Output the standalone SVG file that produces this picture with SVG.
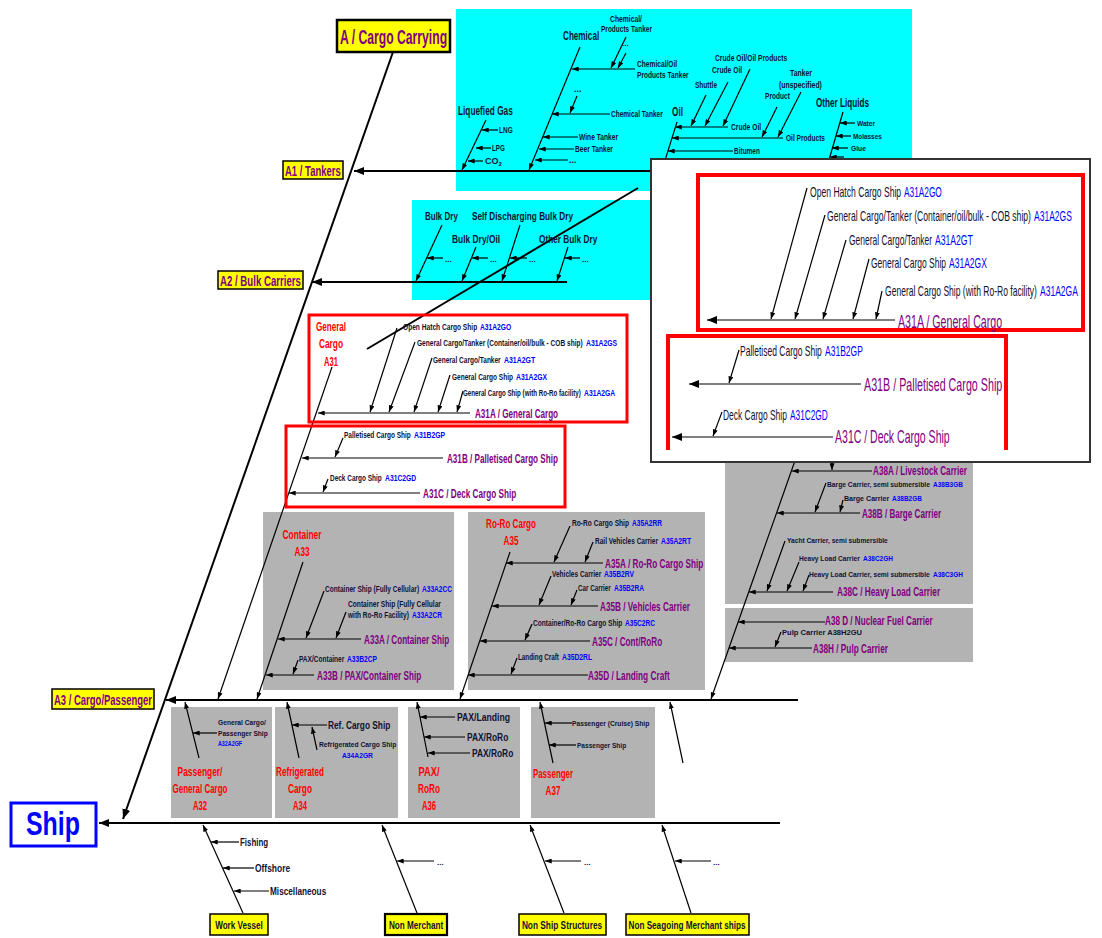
<svg xmlns="http://www.w3.org/2000/svg" width="1102" height="938" viewBox="0 0 1102 938">
<defs>
<style>
text{font-family:"Liberation Sans",Arial,sans-serif;font-weight:bold;fill:#111133}
.r{fill:#ff0000}.p{fill:#800080}.b{fill:#0000ff}.n{font-weight:normal}
.l{stroke:#000;stroke-width:1.2;fill:none}
.m{stroke:#000;stroke-width:2;fill:none}
.cy{fill:#00ffff}.gr{fill:#b3b3b3}
.yb{fill:#ffff00;stroke:#000;stroke-width:1.5}
.rb{fill:none;stroke:#ff0000;stroke-width:3}
</style>
<marker id="a" viewBox="0 0 8 6" refX="8" refY="3" markerWidth="7" markerHeight="5" markerUnits="userSpaceOnUse" orient="auto"><path d="M0,0 L8,3 L0,6 Z" fill="#000"/></marker>
<marker id="A" viewBox="0 0 10 8" refX="10" refY="4" markerWidth="10" markerHeight="8" markerUnits="userSpaceOnUse" orient="auto"><path d="M0,0 L10,4 L0,8 Z" fill="#000"/></marker>
</defs>
<rect width="1102" height="938" fill="#fff"/>
<g id="panels">
<rect class="cy" x="456" y="9" width="456" height="182"/>
<rect class="cy" x="412" y="200" width="250" height="100"/>
<rect class="gr" x="263" y="512" width="191" height="178"/>
<rect class="gr" x="468" y="512" width="237" height="178"/>
<rect class="gr" x="725" y="440" width="248" height="164"/>
<rect class="gr" x="725" y="608" width="248" height="54"/>
<rect class="gr" x="171" y="707" width="101" height="111"/>
<rect class="gr" x="275" y="707" width="123" height="111"/>
<rect class="gr" x="408" y="707" width="112" height="111"/>
<rect class="gr" x="531" y="707" width="124" height="111"/>
</g>
<g id="connectors">
<line class="m" x1="393" y1="52" x2="123" y2="819" marker-end="url(#A)"/>
<line class="m" x1="780" y1="823" x2="99" y2="823" marker-end="url(#A)"/>
<line class="m" x1="840" y1="171" x2="354" y2="171" marker-end="url(#A)"/>
<line class="m" x1="567" y1="282" x2="312" y2="282" marker-end="url(#A)"/>
<line class="m" x1="798" y1="700" x2="166" y2="700" marker-end="url(#A)"/>
<line class="l" x1="486" y1="120" x2="462" y2="170" marker-end="url(#a)"/>
<line class="l" x1="580" y1="47" x2="529" y2="170" marker-end="url(#a)"/>
<line class="l" x1="677" y1="122" x2="662" y2="170" marker-end="url(#a)"/>
<line class="l" x1="843" y1="112" x2="826" y2="170" marker-end="url(#a)"/>
<line class="l" x1="498" y1="130" x2="482" y2="130" marker-end="url(#a)"/>
<line class="l" x1="491" y1="148" x2="476" y2="148" marker-end="url(#a)"/>
<line class="l" x1="483" y1="161" x2="468" y2="161" marker-end="url(#a)"/>
<line class="l" x1="635" y1="69" x2="572" y2="69" marker-end="url(#a)"/>
<line class="l" x1="610" y1="114" x2="552" y2="114" marker-end="url(#a)"/>
<line class="l" x1="578" y1="137" x2="543" y2="137" marker-end="url(#a)"/>
<line class="l" x1="574" y1="149" x2="539" y2="149" marker-end="url(#a)"/>
<line class="l" x1="568" y1="160" x2="535" y2="160" marker-end="url(#a)"/>
<line class="l" x1="626" y1="37" x2="611" y2="68" marker-end="url(#a)"/>
<line class="l" x1="626" y1="53" x2="618" y2="68" marker-end="url(#a)"/>
<line class="l" x1="577" y1="96" x2="570" y2="113" marker-end="url(#a)"/>
<line class="l" x1="728" y1="127" x2="675" y2="127" marker-end="url(#a)"/>
<line class="l" x1="783" y1="138" x2="672" y2="138" marker-end="url(#a)"/>
<line class="l" x1="733" y1="151" x2="668" y2="151" marker-end="url(#a)"/>
<line class="l" x1="706" y1="95" x2="691" y2="126" marker-end="url(#a)"/>
<line class="l" x1="728" y1="82" x2="705" y2="126" marker-end="url(#a)"/>
<line class="l" x1="750" y1="69" x2="723" y2="126" marker-end="url(#a)"/>
<line class="l" x1="777" y1="107" x2="762" y2="137" marker-end="url(#a)"/>
<line class="l" x1="801" y1="92" x2="778" y2="137" marker-end="url(#a)"/>
<line class="l" x1="855" y1="123" x2="840" y2="123" marker-end="url(#a)"/>
<line class="l" x1="851" y1="136" x2="836" y2="136" marker-end="url(#a)"/>
<line class="l" x1="848" y1="148" x2="832" y2="148" marker-end="url(#a)"/>
<line class="l" x1="844" y1="157" x2="830" y2="157" marker-end="url(#a)"/>
<line class="l" x1="442" y1="225" x2="416" y2="281" marker-end="url(#a)"/>
<line class="l" x1="476" y1="247" x2="462" y2="281" marker-end="url(#a)"/>
<line class="l" x1="520" y1="225" x2="502" y2="281" marker-end="url(#a)"/>
<line class="l" x1="568" y1="247" x2="557" y2="281" marker-end="url(#a)"/>
<line class="l" x1="443" y1="258" x2="427" y2="258" marker-end="url(#a)"/>
<line class="l" x1="488" y1="258" x2="472" y2="258" marker-end="url(#a)"/>
<line class="l" x1="527" y1="258" x2="510" y2="258" marker-end="url(#a)"/>
<line class="l" x1="580" y1="258" x2="565" y2="258" marker-end="url(#a)"/>
<line class="m" x1="638" y1="188" x2="367" y2="349"/>
<line class="l" x1="332" y1="367" x2="218" y2="699" marker-end="url(#a)"/>
<line class="l" x1="470" y1="413" x2="318" y2="413" marker-end="url(#a)"/>
<line class="l" x1="397" y1="328" x2="370" y2="412" marker-end="url(#a)"/>
<line class="l" x1="415" y1="342" x2="389" y2="412" marker-end="url(#a)"/>
<line class="l" x1="432" y1="358" x2="414" y2="412" marker-end="url(#a)"/>
<line class="l" x1="450" y1="375" x2="438" y2="412" marker-end="url(#a)"/>
<line class="l" x1="463" y1="391" x2="457" y2="412" marker-end="url(#a)"/>
<line class="l" x1="443" y1="458" x2="302" y2="458" marker-end="url(#a)"/>
<line class="l" x1="343" y1="438" x2="335" y2="457" marker-end="url(#a)"/>
<line class="l" x1="420" y1="493" x2="289" y2="493" marker-end="url(#a)"/>
<line class="l" x1="328" y1="479" x2="323" y2="492" marker-end="url(#a)"/>
<line class="l" x1="303" y1="562" x2="257" y2="699" marker-end="url(#a)"/>
<line class="l" x1="361" y1="639" x2="278" y2="639" marker-end="url(#a)"/>
<line class="l" x1="324" y1="591" x2="306" y2="638" marker-end="url(#a)"/>
<line class="l" x1="346" y1="612" x2="336" y2="638" marker-end="url(#a)"/>
<line class="l" x1="314" y1="675" x2="266" y2="675" marker-end="url(#a)"/>
<line class="l" x1="298" y1="660" x2="293" y2="674" marker-end="url(#a)"/>
<line class="l" x1="510" y1="552" x2="460" y2="699" marker-end="url(#a)"/>
<line class="l" x1="603" y1="563" x2="506" y2="563" marker-end="url(#a)"/>
<line class="l" x1="570" y1="526" x2="554" y2="562" marker-end="url(#a)"/>
<line class="l" x1="593" y1="542" x2="585" y2="562" marker-end="url(#a)"/>
<line class="l" x1="598" y1="606" x2="492" y2="606" marker-end="url(#a)"/>
<line class="l" x1="551" y1="576" x2="539" y2="605" marker-end="url(#a)"/>
<line class="l" x1="577" y1="590" x2="571" y2="605" marker-end="url(#a)"/>
<line class="l" x1="590" y1="641" x2="480" y2="641" marker-end="url(#a)"/>
<line class="l" x1="532" y1="624" x2="525" y2="640" marker-end="url(#a)"/>
<line class="l" x1="588" y1="675" x2="468" y2="675" marker-end="url(#a)"/>
<line class="l" x1="517" y1="658" x2="511" y2="674" marker-end="url(#a)"/>
<line class="l" x1="797" y1="455" x2="711" y2="699" marker-end="url(#a)"/>
<line class="l" x1="872" y1="471" x2="792" y2="471" marker-end="url(#a)"/>
<line class="l" x1="832" y1="462" x2="832" y2="470" marker-end="url(#a)"/>
<line class="l" x1="860" y1="513" x2="777" y2="513" marker-end="url(#a)"/>
<line class="l" x1="826" y1="483" x2="815" y2="512" marker-end="url(#a)"/>
<line class="l" x1="843" y1="500" x2="840" y2="512" marker-end="url(#a)"/>
<line class="l" x1="833" y1="592" x2="749" y2="592" marker-end="url(#a)"/>
<line class="l" x1="785" y1="541" x2="767" y2="591" marker-end="url(#a)"/>
<line class="l" x1="799" y1="562" x2="787" y2="591" marker-end="url(#a)"/>
<line class="l" x1="809" y1="575" x2="803" y2="591" marker-end="url(#a)"/>
<line class="l" x1="825" y1="622" x2="738" y2="622" marker-end="url(#a)"/>
<line class="l" x1="812" y1="648" x2="729" y2="648" marker-end="url(#a)"/>
<line class="l" x1="781" y1="632" x2="775" y2="647" marker-end="url(#a)"/>
<line class="l" x1="199" y1="758" x2="185" y2="702" marker-end="url(#a)"/>
<line class="l" x1="217" y1="733" x2="193" y2="733" marker-end="url(#a)"/>
<line class="l" x1="299" y1="758" x2="287" y2="702" marker-end="url(#a)"/>
<line class="l" x1="327" y1="725" x2="292" y2="725" marker-end="url(#a)"/>
<line class="l" x1="317" y1="750" x2="312" y2="727" marker-end="url(#a)"/>
<line class="l" x1="428" y1="757" x2="417" y2="702" marker-end="url(#a)"/>
<line class="l" x1="455" y1="717" x2="420" y2="717" marker-end="url(#a)"/>
<line class="l" x1="465" y1="737" x2="424" y2="737" marker-end="url(#a)"/>
<line class="l" x1="470" y1="753" x2="428" y2="753" marker-end="url(#a)"/>
<line class="l" x1="553" y1="763" x2="540" y2="702" marker-end="url(#a)"/>
<line class="l" x1="572" y1="723" x2="545" y2="723" marker-end="url(#a)"/>
<line class="l" x1="576" y1="745" x2="549" y2="745" marker-end="url(#a)"/>
<line class="l" x1="683" y1="763" x2="670" y2="702" marker-end="url(#a)"/>
<line class="l" x1="243" y1="913" x2="203" y2="825" marker-end="url(#a)"/>
<line class="l" x1="239" y1="842" x2="211" y2="842" marker-end="url(#a)"/>
<line class="l" x1="254" y1="868" x2="223" y2="868" marker-end="url(#a)"/>
<line class="l" x1="269" y1="891" x2="234" y2="891" marker-end="url(#a)"/>
<line class="l" x1="417" y1="913" x2="382" y2="825" marker-end="url(#a)"/>
<line class="l" x1="434" y1="861" x2="397" y2="861" marker-end="url(#a)"/>
<line class="l" x1="564" y1="913" x2="530" y2="825" marker-end="url(#a)"/>
<line class="l" x1="581" y1="861" x2="545" y2="861" marker-end="url(#a)"/>
<line class="l" x1="691" y1="913" x2="662" y2="825" marker-end="url(#a)"/>
<line class="l" x1="711" y1="861" x2="675" y2="861" marker-end="url(#a)"/>
</g>
<g id="cargo-carrying">
<rect x="337" y="20" width="113" height="32" fill="#ffff00" stroke="#000" stroke-width="2.5"/>
<text class="p" transform="translate(340,44) scale(0.53,1)" font-size="20" textLength="202" lengthAdjust="spacingAndGlyphs">A / Cargo Carrying</text>
</g>
<g id="a1-tankers">
<rect class="yb" x="283" y="161" width="60" height="18"/>
<text class="p" transform="translate(285,176) scale(0.6,1)" font-size="14" textLength="93" lengthAdjust="spacingAndGlyphs">A1 / Tankers</text>
<text transform="translate(458,115) scale(0.63,1)" font-size="12" textLength="87" lengthAdjust="spacingAndGlyphs">Liquefied Gas</text>
<text transform="translate(499,133) scale(0.72,1)" font-size="9" textLength="19" lengthAdjust="spacingAndGlyphs">LNG</text>
<text transform="translate(492,151) scale(0.68,1)" font-size="9" textLength="19" lengthAdjust="spacingAndGlyphs">LPG</text>
<text x="485" y="164" font-size="9">CO<tspan font-size="6" dy="2">2</tspan></text>
<text transform="translate(563,40) scale(0.67,1)" font-size="12" textLength="54" lengthAdjust="spacingAndGlyphs">Chemical</text>
<text transform="translate(610,22) scale(0.71,1)" font-size="9" textLength="45" lengthAdjust="spacingAndGlyphs">Chemical/</text>
<text transform="translate(601,32) scale(0.67,1)" font-size="9" textLength="76" lengthAdjust="spacingAndGlyphs">Products Tanker</text>
<text x="622" y="46" font-size="8">...</text>
<text transform="translate(637,67) scale(0.67,1)" font-size="9" textLength="60" lengthAdjust="spacingAndGlyphs">Chemical/Oil</text>
<text transform="translate(637,78) scale(0.68,1)" font-size="9" textLength="76" lengthAdjust="spacingAndGlyphs">Products Tanker</text>
<text x="574" y="92" font-size="9">...</text>
<text transform="translate(611,117) scale(0.68,1)" font-size="9" textLength="76" lengthAdjust="spacingAndGlyphs">Chemical Tanker</text>
<text transform="translate(579,140) scale(0.71,1)" font-size="9" textLength="55" lengthAdjust="spacingAndGlyphs">Wine Tanker</text>
<text transform="translate(575,152) scale(0.69,1)" font-size="9" textLength="55" lengthAdjust="spacingAndGlyphs">Beer Tanker</text>
<text x="569" y="163" font-size="9">...</text>
<text transform="translate(672,116) scale(0.55,1)" font-size="12" textLength="20" lengthAdjust="spacingAndGlyphs">Oil</text>
<text transform="translate(715,61) scale(0.65,1)" font-size="9" textLength="111" lengthAdjust="spacingAndGlyphs">Crude Oil/Oil Products</text>
<text transform="translate(712,73) scale(0.67,1)" font-size="9" textLength="45" lengthAdjust="spacingAndGlyphs">Crude Oil</text>
<text transform="translate(695,88) scale(0.63,1)" font-size="9" textLength="35" lengthAdjust="spacingAndGlyphs">Shuttle</text>
<text transform="translate(790,76) scale(0.73,1)" font-size="9" textLength="30" lengthAdjust="spacingAndGlyphs">Tanker</text>
<text transform="translate(779,88) scale(0.66,1)" font-size="9" textLength="65" lengthAdjust="spacingAndGlyphs">(unspecified)</text>
<text transform="translate(765,99) scale(0.71,1)" font-size="9" textLength="35" lengthAdjust="spacingAndGlyphs">Product</text>
<text transform="translate(731,130) scale(0.67,1)" font-size="9" textLength="45" lengthAdjust="spacingAndGlyphs">Crude Oil</text>
<text transform="translate(786,141) scale(0.65,1)" font-size="9" textLength="60" lengthAdjust="spacingAndGlyphs">Oil Products</text>
<text transform="translate(734,154) scale(0.74,1)" font-size="9" textLength="35" lengthAdjust="spacingAndGlyphs">Bitumen</text>
<text transform="translate(816,107) scale(0.61,1)" font-size="12" textLength="87" lengthAdjust="spacingAndGlyphs">Other Liquids</text>
<text transform="translate(857,126) scale(0.82,1)" font-size="8" textLength="22" lengthAdjust="spacingAndGlyphs">Water</text>
<text transform="translate(853,139) scale(0.8,1)" font-size="8" textLength="36" lengthAdjust="spacingAndGlyphs">Molasses</text>
<text transform="translate(851,151) scale(0.83,1)" font-size="8" textLength="18" lengthAdjust="spacingAndGlyphs">Glue</text>
</g>
<g id="a2-bulk">
<rect class="yb" x="218" y="271" width="85" height="18"/>
<text class="p" transform="translate(220,286) scale(0.57,1)" font-size="14" textLength="142" lengthAdjust="spacingAndGlyphs">A2 / Bulk Carriers</text>
<text transform="translate(425,220) scale(0.67,1)" font-size="11" textLength="49" lengthAdjust="spacingAndGlyphs">Bulk Dry</text>
<text transform="translate(472,220) scale(0.66,1)" font-size="11" textLength="153" lengthAdjust="spacingAndGlyphs">Self Discharging Bulk Dry</text>
<text transform="translate(452,243) scale(0.65,1)" font-size="11" textLength="74" lengthAdjust="spacingAndGlyphs">Bulk Dry/Oil</text>
<text transform="translate(539,243) scale(0.67,1)" font-size="11" textLength="87" lengthAdjust="spacingAndGlyphs">Other Bulk Dry</text>
<text x="445" y="262" font-size="8">...</text>
<text x="490" y="262" font-size="8">...</text>
<text x="529" y="262" font-size="8">...</text>
<text x="582" y="262" font-size="8">...</text>
</g>
<g id="a3-cargo-passenger">
<rect class="yb" x="52" y="689" width="102" height="20"/>
<text class="p" transform="translate(54,705) scale(0.62,1)" font-size="14" textLength="158" lengthAdjust="spacingAndGlyphs">A3 / Cargo/Passenger</text>
</g>
<g id="a31-general-cargo">
<rect class="rb" x="309" y="315" width="318" height="107"/>
<rect class="rb" x="286" y="426" width="279" height="81"/>
<text class="r" transform="translate(331,331) scale(0.64,1)" font-size="12" text-anchor="middle" textLength="47" lengthAdjust="spacingAndGlyphs">General</text>
<text class="r" transform="translate(331,348) scale(0.71,1)" font-size="12" text-anchor="middle" textLength="34" lengthAdjust="spacingAndGlyphs">Cargo</text>
<text class="r" transform="translate(331,366) scale(0.61,1)" font-size="12" text-anchor="middle" textLength="23" lengthAdjust="spacingAndGlyphs">A31</text>
<text transform="translate(403,330) scale(0.7,1)" font-size="9" textLength="106" lengthAdjust="spacingAndGlyphs">Open Hatch Cargo Ship</text>
<text class="b" transform="translate(480,330) scale(0.76,1)" font-size="9" textLength="41" lengthAdjust="spacingAndGlyphs">A31A2GO</text>
<text transform="translate(417,346) scale(0.63,1)" font-size="9" textLength="263" lengthAdjust="spacingAndGlyphs">General Cargo/Tanker (Container/oil/bulk - COB ship)</text>
<text class="b" transform="translate(586,346) scale(0.76,1)" font-size="9" textLength="41" lengthAdjust="spacingAndGlyphs">A31A2GS</text>
<text transform="translate(433,363) scale(0.67,1)" font-size="9" textLength="101" lengthAdjust="spacingAndGlyphs">General Cargo/Tanker</text>
<text class="b" transform="translate(504,363) scale(0.76,1)" font-size="9" textLength="41" lengthAdjust="spacingAndGlyphs">A31A2GT</text>
<text transform="translate(452,380) scale(0.67,1)" font-size="9" textLength="91" lengthAdjust="spacingAndGlyphs">General Cargo Ship</text>
<text class="b" transform="translate(516,380) scale(0.76,1)" font-size="9" textLength="41" lengthAdjust="spacingAndGlyphs">A31A2GX</text>
<text transform="translate(463,396) scale(0.58,1)" font-size="9" textLength="203" lengthAdjust="spacingAndGlyphs">General Cargo Ship (with Ro-Ro facility)</text>
<text class="b" transform="translate(584,396) scale(0.76,1)" font-size="9" textLength="41" lengthAdjust="spacingAndGlyphs">A31A2GA</text>
<text class="p" transform="translate(475,418) scale(0.62,1)" font-size="12" textLength="134" lengthAdjust="spacingAndGlyphs">A31A / General Cargo</text>
<text transform="translate(344,438) scale(0.63,1)" font-size="9" textLength="106" lengthAdjust="spacingAndGlyphs">Palletised Cargo Ship</text>
<text class="b" transform="translate(414,438) scale(0.76,1)" font-size="9" textLength="41" lengthAdjust="spacingAndGlyphs">A31B2GP</text>
<text class="p" transform="translate(447,463) scale(0.59,1)" font-size="12" textLength="188" lengthAdjust="spacingAndGlyphs">A31B / Palletised Cargo Ship</text>
<text transform="translate(330,481) scale(0.68,1)" font-size="9" textLength="76" lengthAdjust="spacingAndGlyphs">Deck Cargo Ship</text>
<text class="b" transform="translate(385,481) scale(0.76,1)" font-size="9" textLength="41" lengthAdjust="spacingAndGlyphs">A31C2GD</text>
<text class="p" transform="translate(423,498) scale(0.63,1)" font-size="12" textLength="148" lengthAdjust="spacingAndGlyphs">A31C / Deck Cargo Ship</text>
</g>
<g id="a33-container">
<text class="r" transform="translate(302,539) scale(0.59,1)" font-size="13" text-anchor="middle" textLength="66" lengthAdjust="spacingAndGlyphs">Container</text>
<text class="r" transform="translate(302,556) scale(0.6,1)" font-size="13" text-anchor="middle" textLength="25" lengthAdjust="spacingAndGlyphs">A33</text>
<text transform="translate(325,592) scale(0.64,1)" font-size="8.5" textLength="147" lengthAdjust="spacingAndGlyphs">Container Ship (Fully Cellular)</text>
<text class="b" transform="translate(422,592) scale(0.77,1)" font-size="8.5" textLength="39" lengthAdjust="spacingAndGlyphs">A33A2CC</text>
<text transform="translate(348,607) scale(0.65,1)" font-size="8.5" textLength="143" lengthAdjust="spacingAndGlyphs">Container Ship (Fully Cellular</text>
<text transform="translate(348,618) scale(0.64,1)" font-size="8.5" textLength="95" lengthAdjust="spacingAndGlyphs">with Ro-Ro Facility)</text>
<text class="b" transform="translate(412,618) scale(0.77,1)" font-size="8.5" textLength="39" lengthAdjust="spacingAndGlyphs">A33A2CR</text>
<text class="p" transform="translate(364,644) scale(0.6,1)" font-size="12" textLength="142" lengthAdjust="spacingAndGlyphs">A33A / Container Ship</text>
<text transform="translate(299,662) scale(0.73,1)" font-size="8.5" textLength="62" lengthAdjust="spacingAndGlyphs">PAX/Container</text>
<text class="b" transform="translate(347,662) scale(0.77,1)" font-size="8.5" textLength="39" lengthAdjust="spacingAndGlyphs">A33B2CP</text>
<text class="p" transform="translate(317,680) scale(0.62,1)" font-size="12" textLength="168" lengthAdjust="spacingAndGlyphs">A33B / PAX/Container Ship</text>
</g>
<g id="a35-roro">
<text class="r" transform="translate(511,528) scale(0.63,1)" font-size="13" text-anchor="middle" textLength="79" lengthAdjust="spacingAndGlyphs">Ro-Ro Cargo</text>
<text class="r" transform="translate(511,545) scale(0.6,1)" font-size="13" text-anchor="middle" textLength="25" lengthAdjust="spacingAndGlyphs">A35</text>
<text transform="translate(572,526) scale(0.75,1)" font-size="8.5" textLength="76" lengthAdjust="spacingAndGlyphs">Ro-Ro Cargo Ship</text>
<text class="b" transform="translate(632,526) scale(0.77,1)" font-size="8.5" textLength="39" lengthAdjust="spacingAndGlyphs">A35A2RR</text>
<text transform="translate(595,544) scale(0.63,1)" font-size="8.5" textLength="100" lengthAdjust="spacingAndGlyphs">Rail Vehicles Carrier</text>
<text class="b" transform="translate(661,544) scale(0.77,1)" font-size="8.5" textLength="39" lengthAdjust="spacingAndGlyphs">A35A2RT</text>
<text class="p" transform="translate(605,568) scale(0.63,1)" font-size="12" textLength="156" lengthAdjust="spacingAndGlyphs">A35A / Ro-Ro Cargo Ship</text>
<text transform="translate(552,577) scale(0.64,1)" font-size="8.5" textLength="77" lengthAdjust="spacingAndGlyphs">Vehicles Carrier</text>
<text class="b" transform="translate(604,577) scale(0.77,1)" font-size="8.5" textLength="39" lengthAdjust="spacingAndGlyphs">A35B2RV</text>
<text transform="translate(578,591) scale(0.63,1)" font-size="8.5" textLength="52" lengthAdjust="spacingAndGlyphs">Car Carrier</text>
<text class="b" transform="translate(614,591) scale(0.77,1)" font-size="8.5" textLength="39" lengthAdjust="spacingAndGlyphs">A35B2RA</text>
<text class="p" transform="translate(600,611) scale(0.58,1)" font-size="12" textLength="155" lengthAdjust="spacingAndGlyphs">A35B / Vehicles Carrier</text>
<text transform="translate(533,626) scale(0.72,1)" font-size="8.5" textLength="124" lengthAdjust="spacingAndGlyphs">Container/Ro-Ro Cargo Ship</text>
<text class="b" transform="translate(625,626) scale(0.77,1)" font-size="8.5" textLength="39" lengthAdjust="spacingAndGlyphs">A35C2RC</text>
<text class="p" transform="translate(592,646) scale(0.65,1)" font-size="12" textLength="108" lengthAdjust="spacingAndGlyphs">A35C / Cont/RoRo</text>
<text transform="translate(518,660) scale(0.66,1)" font-size="8.5" textLength="62" lengthAdjust="spacingAndGlyphs">Landing Craft</text>
<text class="b" transform="translate(562,660) scale(0.77,1)" font-size="8.5" textLength="39" lengthAdjust="spacingAndGlyphs">A35D2RL</text>
<text class="p" transform="translate(588,680) scale(0.61,1)" font-size="12" textLength="134" lengthAdjust="spacingAndGlyphs">A35D / Landing Craft</text>
</g>
<g id="a38-other">
<text class="p" transform="translate(873,475) scale(0.58,1)" font-size="12" textLength="162" lengthAdjust="spacingAndGlyphs">A38A / Livestock Carrier</text>
<text transform="translate(827,487) scale(0.74,1)" font-size="8" textLength="139" lengthAdjust="spacingAndGlyphs">Barge Carrier, semi submersible</text>
<text class="b" transform="translate(933,487) scale(0.83,1)" font-size="8" textLength="36" lengthAdjust="spacingAndGlyphs">A38B3GB</text>
<text transform="translate(844,501) scale(0.78,1)" font-size="8" textLength="58" lengthAdjust="spacingAndGlyphs">Barge Carrier</text>
<text class="b" transform="translate(892,501) scale(0.83,1)" font-size="8" textLength="36" lengthAdjust="spacingAndGlyphs">A38B2GB</text>
<text class="p" transform="translate(862,518) scale(0.59,1)" font-size="12" textLength="134" lengthAdjust="spacingAndGlyphs">A38B / Barge Carrier</text>
<text transform="translate(787,543) scale(0.73,1)" font-size="8" textLength="138" lengthAdjust="spacingAndGlyphs">Yacht Carrier, semi submersible</text>
<text transform="translate(799,561) scale(0.75,1)" font-size="8" textLength="81" lengthAdjust="spacingAndGlyphs">Heavy Load Carrier</text>
<text class="b" transform="translate(863,561) scale(0.83,1)" font-size="8" textLength="36" lengthAdjust="spacingAndGlyphs">A38C2GH</text>
<text transform="translate(809,577) scale(0.75,1)" font-size="8" textLength="161" lengthAdjust="spacingAndGlyphs">Heavy Load Carrier, semi submersible</text>
<text class="b" transform="translate(933,577) scale(0.83,1)" font-size="8" textLength="36" lengthAdjust="spacingAndGlyphs">A38C3GH</text>
<text class="p" transform="translate(837,596) scale(0.61,1)" font-size="12" textLength="169" lengthAdjust="spacingAndGlyphs">A38C / Heavy Load Carrier</text>
<text class="p" transform="translate(825,625) scale(0.57,1)" font-size="12" textLength="189" lengthAdjust="spacingAndGlyphs">A38 D / Nuclear Fuel Carrier</text>
<text transform="translate(782,635) scale(0.89,1)" font-size="8" textLength="90" lengthAdjust="spacingAndGlyphs">Pulp Carrier A38H2GU</text>
<text class="p" transform="translate(813,653) scale(0.59,1)" font-size="12" textLength="127" lengthAdjust="spacingAndGlyphs">A38H / Pulp Carrier</text>
</g>
<g id="a32">
<text transform="translate(218,725) scale(0.76,1)" font-size="8" textLength="63" lengthAdjust="spacingAndGlyphs">General Cargo/</text>
<text transform="translate(218,736) scale(0.79,1)" font-size="8" textLength="63" lengthAdjust="spacingAndGlyphs">Passenger Ship</text>
<text class="b" transform="translate(218,746) scale(0.67,1)" font-size="8" textLength="36" lengthAdjust="spacingAndGlyphs">A32A2GF</text>
<text class="r" transform="translate(200,776) scale(0.67,1)" font-size="12" text-anchor="middle" textLength="67" lengthAdjust="spacingAndGlyphs">Passenger/</text>
<text class="r" transform="translate(200,793) scale(0.63,1)" font-size="12" text-anchor="middle" textLength="87" lengthAdjust="spacingAndGlyphs">General Cargo</text>
<text class="r" transform="translate(200,810) scale(0.61,1)" font-size="12" text-anchor="middle" textLength="23" lengthAdjust="spacingAndGlyphs">A32</text>
</g>
<g id="a34">
<text transform="translate(328,729) scale(0.67,1)" font-size="11" textLength="93" lengthAdjust="spacingAndGlyphs">Ref. Cargo Ship</text>
<text transform="translate(319,747) scale(0.75,1)" font-size="8" textLength="103" lengthAdjust="spacingAndGlyphs">Refrigerated Cargo Ship</text>
<text class="b" transform="translate(342,758) scale(0.86,1)" font-size="8" textLength="36" lengthAdjust="spacingAndGlyphs">A34A2GR</text>
<text class="r" transform="translate(300,776) scale(0.59,1)" font-size="12" text-anchor="middle" textLength="81" lengthAdjust="spacingAndGlyphs">Refrigerated</text>
<text class="r" transform="translate(300,793) scale(0.71,1)" font-size="12" text-anchor="middle" textLength="34" lengthAdjust="spacingAndGlyphs">Cargo</text>
<text class="r" transform="translate(300,810) scale(0.61,1)" font-size="12" text-anchor="middle" textLength="23" lengthAdjust="spacingAndGlyphs">A34</text>
</g>
<g id="a36">
<text transform="translate(457,721) scale(0.78,1)" font-size="11" textLength="68" lengthAdjust="spacingAndGlyphs">PAX/Landing</text>
<text transform="translate(467,741) scale(0.75,1)" font-size="11" textLength="55" lengthAdjust="spacingAndGlyphs">PAX/RoRo</text>
<text transform="translate(472,757) scale(0.75,1)" font-size="11" textLength="55" lengthAdjust="spacingAndGlyphs">PAX/RoRo</text>
<text class="r" transform="translate(429,776) scale(0.7,1)" font-size="12" text-anchor="middle" textLength="30" lengthAdjust="spacingAndGlyphs">PAX/</text>
<text class="r" transform="translate(429,793) scale(0.73,1)" font-size="12" text-anchor="middle" textLength="30" lengthAdjust="spacingAndGlyphs">RoRo</text>
<text class="r" transform="translate(429,810) scale(0.61,1)" font-size="12" text-anchor="middle" textLength="23" lengthAdjust="spacingAndGlyphs">A36</text>
</g>
<g id="a37">
<text transform="translate(572,726) scale(0.75,1)" font-size="8" textLength="103" lengthAdjust="spacingAndGlyphs">Passenger (Cruise) Ship</text>
<text transform="translate(577,748) scale(0.78,1)" font-size="8" textLength="63" lengthAdjust="spacingAndGlyphs">Passenger Ship</text>
<text class="r" transform="translate(553,778) scale(0.67,1)" font-size="12" text-anchor="middle" textLength="60" lengthAdjust="spacingAndGlyphs">Passenger</text>
<text class="r" transform="translate(553,795) scale(0.65,1)" font-size="12" text-anchor="middle" textLength="23" lengthAdjust="spacingAndGlyphs">A37</text>
</g>
<g id="ship">
<rect x="11" y="803" width="85" height="43" fill="#fff" stroke="#0000ff" stroke-width="3"/>
<text class="b" transform="translate(53,835) scale(0.73,1)" font-size="34" text-anchor="middle" textLength="74" lengthAdjust="spacingAndGlyphs">Ship</text>
</g>
<g id="work-vessel">
<rect class="yb" x="210" y="914" width="58" height="21"/>
<text transform="translate(239,929) scale(0.77,1)" font-size="10" text-anchor="middle" textLength="62" lengthAdjust="spacingAndGlyphs">Work Vessel</text>
<text transform="translate(240,846) scale(0.72,1)" font-size="10" textLength="39" lengthAdjust="spacingAndGlyphs">Fishing</text>
<text transform="translate(255,872) scale(0.78,1)" font-size="10" textLength="45" lengthAdjust="spacingAndGlyphs">Offshore</text>
<text transform="translate(270,895) scale(0.77,1)" font-size="10" textLength="73" lengthAdjust="spacingAndGlyphs">Miscellaneous</text>
</g>
<g id="non-merchant">
<rect x="385" y="914" width="62" height="21" fill="#ffff00" stroke="#000" stroke-width="2.2"/>
<text transform="translate(416,929) scale(0.81,1)" font-size="10" text-anchor="middle" textLength="67" lengthAdjust="spacingAndGlyphs">Non Merchant</text>
<text x="437" y="865" font-size="8">...</text>
</g>
<g id="non-ship-structures">
<rect class="yb" x="519" y="914" width="87" height="21"/>
<text transform="translate(562,929) scale(0.75,1)" font-size="10" text-anchor="middle" textLength="107" lengthAdjust="spacingAndGlyphs">Non Ship Structures</text>
<text x="584" y="865" font-size="8">...</text>
</g>
<g id="non-seagoing">
<rect class="yb" x="626" y="914" width="123" height="21"/>
<text transform="translate(687,929) scale(0.77,1)" font-size="10" text-anchor="middle" textLength="152" lengthAdjust="spacingAndGlyphs">Non Seagoing Merchant ships</text>
<text x="713" y="865" font-size="8">...</text>
</g>
<g id="inset">
<rect x="651" y="159" width="439" height="303" fill="#fff" stroke="#333" stroke-width="2"/>
<rect x="698" y="175" width="385" height="155" fill="none" stroke="#ff0000" stroke-width="4"/>
<path d="M668,450 V336 H1006 V450" fill="none" stroke="#ff0000" stroke-width="4"/>
</g>
<g id="inset-connectors">
<line class="l" x1="807" y1="188" x2="771" y2="319" marker-end="url(#a)"/>
<line class="l" x1="825" y1="215" x2="795" y2="319" marker-end="url(#a)"/>
<line class="l" x1="846" y1="240" x2="823" y2="319" marker-end="url(#a)"/>
<line class="l" x1="869" y1="259" x2="853" y2="319" marker-end="url(#a)"/>
<line class="l" x1="882" y1="291" x2="876" y2="319" marker-end="url(#a)"/>
<line class="l" x1="895" y1="320" x2="707" y2="320" marker-end="url(#A)"/>
<line class="l" x1="739" y1="350" x2="729" y2="383" marker-end="url(#a)"/>
<line class="l" x1="861" y1="384" x2="689" y2="384" marker-end="url(#A)"/>
<line class="l" x1="722" y1="412" x2="713" y2="436" marker-end="url(#a)"/>
<line class="l" x1="833" y1="437" x2="672" y2="437" marker-end="url(#A)"/>
</g>
<g id="inset-labels">
<text class="n" transform="translate(810,197) scale(0.62,1)" font-size="14" textLength="147" lengthAdjust="spacingAndGlyphs">Open Hatch Cargo Ship</text>
<text class="n b" transform="translate(904,197) scale(0.62,1)" font-size="14" textLength="61" lengthAdjust="spacingAndGlyphs">A31A2GO</text>
<text class="n" transform="translate(827,221) scale(0.62,1)" font-size="14" textLength="329" lengthAdjust="spacingAndGlyphs">General Cargo/Tanker (Container/oil/bulk - COB ship)</text>
<text class="n b" transform="translate(1034,221) scale(0.62,1)" font-size="14" textLength="61" lengthAdjust="spacingAndGlyphs">A31A2GS</text>
<text class="n" transform="translate(849,245) scale(0.62,1)" font-size="14" textLength="134" lengthAdjust="spacingAndGlyphs">General Cargo/Tanker</text>
<text class="n b" transform="translate(935,245) scale(0.62,1)" font-size="14" textLength="61" lengthAdjust="spacingAndGlyphs">A31A2GT</text>
<text class="n" transform="translate(871,268) scale(0.62,1)" font-size="14" textLength="121" lengthAdjust="spacingAndGlyphs">General Cargo Ship</text>
<text class="n b" transform="translate(949,268) scale(0.62,1)" font-size="14" textLength="61" lengthAdjust="spacingAndGlyphs">A31A2GX</text>
<text class="n" transform="translate(885,296) scale(0.62,1)" font-size="14" textLength="245" lengthAdjust="spacingAndGlyphs">General Cargo Ship (with Ro-Ro facility)</text>
<text class="n b" transform="translate(1040,296) scale(0.62,1)" font-size="14" textLength="61" lengthAdjust="spacingAndGlyphs">A31A2GA</text>
<text class="p n" transform="translate(898,328) scale(0.62,1)" font-size="18" textLength="168" lengthAdjust="spacingAndGlyphs">A31A / General Cargo</text>
<text class="n" transform="translate(740,356) scale(0.62,1)" font-size="14" textLength="132" lengthAdjust="spacingAndGlyphs">Palletised Cargo Ship</text>
<text class="n b" transform="translate(825,356) scale(0.62,1)" font-size="14" textLength="61" lengthAdjust="spacingAndGlyphs">A31B2GP</text>
<text class="p n" transform="translate(864,391) scale(0.62,1)" font-size="18" textLength="223" lengthAdjust="spacingAndGlyphs">A31B / Palletised Cargo Ship</text>
<text class="n" transform="translate(723,420) scale(0.62,1)" font-size="14" textLength="103" lengthAdjust="spacingAndGlyphs">Deck Cargo Ship</text>
<text class="n b" transform="translate(790,420) scale(0.62,1)" font-size="14" textLength="61" lengthAdjust="spacingAndGlyphs">A31C2GD</text>
<text class="p n" transform="translate(835,443) scale(0.62,1)" font-size="18" textLength="185" lengthAdjust="spacingAndGlyphs">A31C / Deck Cargo Ship</text>
</g>
</svg>
